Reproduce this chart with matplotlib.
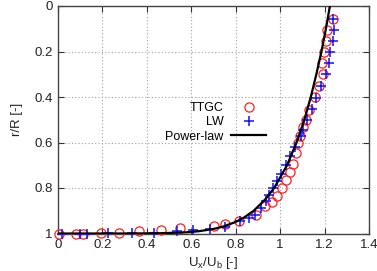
import matplotlib
matplotlib.use("Agg")
import matplotlib.pyplot as plt
from matplotlib.ticker import FuncFormatter, MultipleLocator

# TTGC (red circles): velocity U_x/U_b and radius r/R
ttgc_u = [0.006, 0.081, 0.114, 0.192, 0.276, 0.366, 0.463, 0.550, 0.700, 0.752,
          0.815, 0.890, 0.930, 0.962, 0.985, 1.008, 1.028, 1.044, 1.058, 1.070,
          1.082, 1.088, 1.104, 1.118, 1.132, 1.158, 1.177, 1.194, 1.188, 1.198,
          1.206, 1.210, 1.236]
ttgc_r = [1.000, 1.000, 1.000, 0.998, 0.996, 0.990, 0.986, 0.978, 0.967, 0.958,
          0.944, 0.917, 0.880, 0.860, 0.836, 0.800, 0.765, 0.730, 0.695, 0.645,
          0.600, 0.572, 0.530, 0.500, 0.455, 0.400, 0.350, 0.300, 0.250, 0.200,
          0.155, 0.105, 0.055]

# LW (blue plus)
lw_u = [0.017, 0.099, 0.132, 0.227, 0.332, 0.432, 0.537, 0.606, 0.682, 0.750,
        0.818, 0.862, 0.885, 0.912, 0.938, 0.950, 0.968, 0.985, 1.005, 1.025,
        1.045, 1.065, 1.093, 1.105, 1.120, 1.145, 1.161, 1.183, 1.207, 1.218,
        1.225, 1.236, 1.243, 1.237]
lw_r = [1.000, 1.000, 1.000, 0.999, 0.998, 0.996, 0.990, 0.985, 0.979, 0.970,
        0.946, 0.930, 0.917, 0.890, 0.858, 0.829, 0.800, 0.770, 0.740, 0.700,
        0.660, 0.620, 0.572, 0.543, 0.502, 0.452, 0.403, 0.350, 0.297, 0.250,
        0.203, 0.155, 0.105, 0.055]

# Power-law curve
pl_u = [1.224, 1.206, 1.186, 1.163, 1.138, 1.109, 1.074, 1.031, 0.973, 0.933,
        0.881, 0.837, 0.798, 0.742, 0.700, 0.634, 0.574, 0.456, 0.328, 0.0]
pl_r = [0.0, 0.1, 0.2, 0.3, 0.4, 0.5, 0.6, 0.7, 0.8, 0.85,
        0.9, 0.93, 0.95, 0.97, 0.98, 0.99, 0.995, 0.999, 0.9999, 1.0]

plt.rcParams['font.family'] = ['Liberation Sans', 'DejaVu Sans']
plt.rcParams['mathtext.fontset'] = 'custom'
plt.rcParams['mathtext.rm'] = 'Liberation Sans'

fig = plt.figure(figsize=(3.77, 2.71), dpi=100)
ax = fig.add_axes([58/377, 1 - 233.5/271, (369-58)/377, (233.5-6)/271])

ax.plot(ttgc_u, ttgc_r, linestyle='none', marker='o', ms=6.6, mfc='none',
        mec='#ff2020', mew=0.9, label='TTGC', zorder=3, clip_on=False)
ax.plot(lw_u, lw_r, linestyle='none', marker='+', ms=7, mec='#1010ff',
        mew=1.1, label='LW', zorder=4, clip_on=False)
ax.plot(pl_u, pl_r, color='black', lw=1.6, label='Power-law', zorder=5)

ax.set_xlim(0, 1.4)
ax.set_ylim(1, 0)
ax.xaxis.set_major_locator(MultipleLocator(0.2))
ax.yaxis.set_major_locator(MultipleLocator(0.2))
fmt = FuncFormatter(lambda v, p: '%g' % round(v, 3))
ax.xaxis.set_major_formatter(fmt)
ax.yaxis.set_major_formatter(fmt)

ax.grid(True, color='#a0a0a0', linestyle=(0, (1, 2)), lw=0.8)
ax.tick_params(direction='in', top=True, right=True, length=4, width=0.8,
               labelsize=9.5, pad=4, colors='#333333', labelcolor='#222222')
for s in ax.spines.values():
    s.set_color('#444444')
    s.set_linewidth(1.0)

ax.set_xlabel(r'U$_\mathrm{x}$/U$_\mathrm{b}$ [-]', fontsize=9.5, color='#222222', labelpad=2.5)
ax.set_ylabel('r/R [-]', fontsize=9.5, color='#222222', labelpad=8)

leg = ax.legend(loc='upper right', bbox_to_anchor=(266/377, 1 - 102/271),
                bbox_transform=fig.transFigure, frameon=False, markerfirst=False,
                fontsize=9, handlelength=2.8, handletextpad=0.6,
                labelspacing=0.18, borderpad=0, borderaxespad=0)

fig.savefig('out.png', dpi=100)
